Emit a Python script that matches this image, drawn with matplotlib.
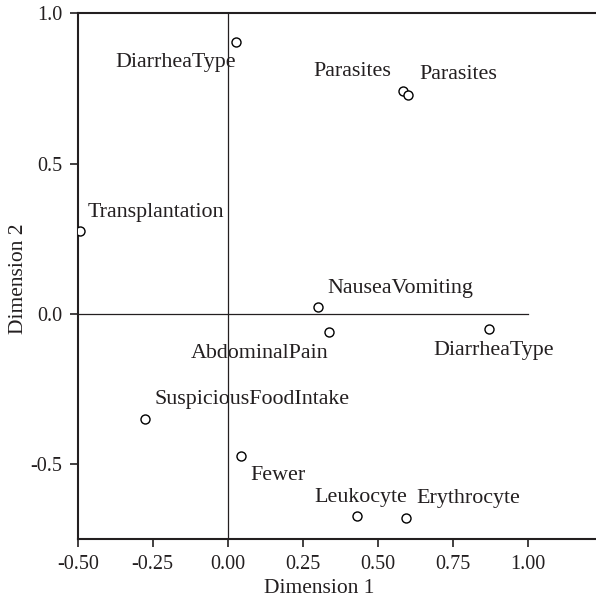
import matplotlib
matplotlib.use("Agg")
import matplotlib.pyplot as plt

# category points (dimension 1, dimension 2)
labels = ["DiarrheaType", "Parasites", "Parasites", "Transplantation",
          "NauseaVomiting", "AbdominalPain", "DiarrheaType",
          "SuspiciousFoodIntake", "Fewer", "Leukocyte", "Erythrocyte"]
dim1 = [0.027, 0.585, 0.601, -0.492, 0.300, 0.337, 0.870, -0.276, 0.043, 0.431, 0.595]
dim2 = [0.906, 0.743, 0.728, 0.276, 0.024, -0.060, -0.049, -0.349, -0.471, -0.672, -0.677]

xticks = [-0.50, -0.25, 0.00, 0.25, 0.50, 0.75, 1.00]
yticks = [-0.5, 0.0, 0.5, 1.0]

# label placement (pixel offsets, alignment)
offsets = [(0, -21, "right"), (-12, 19, "right"), (11, 21, "left"), (8, 19, "left"),
           (10, 18, "left"), (0, -21, "right"), (5, -22, "center"), (10, 19, "left"),
           (10, -20, "left"), (4, 19, "center"), (10, 19, "left")]

plt.rcParams["font.family"] = ["Liberation Serif", "DejaVu Serif"]
txt = "#231f20"

fig = plt.figure(figsize=(5.96, 6.01), dpi=100)
ax = fig.add_axes([0.1304, 0.1027, 0.8696, 0.8752])

ax.set_xlim(-0.5, 1.2277)
ax.set_ylim(-0.749, 1.0)

# reference lines
ax.plot([0, 0], [-0.749, 1.0], color="#231f20", lw=0.9, zorder=1)
ax.plot([-0.5, 1.0], [0, 0], color="#231f20", lw=0.9, zorder=1)

ax.plot(dim1, dim2, "o", mfc="white", mec="black", ms=6.5, mew=1.0, zorder=3)

for lab, x, y, (dx, dy, ha) in zip(labels, dim1, dim2, offsets):
    ax.annotate(lab, (x, y), xytext=(dx, dy), textcoords="offset pixels",
                ha=ha, va="center", fontsize=15.8, color=txt)

ax.set_xticks(xticks)
ax.set_xticklabels(["%.2f" % v for v in xticks])
ax.set_yticks(yticks)
ax.set_yticklabels(["%.1f" % v for v in yticks])
ax.tick_params(direction="out", length=6, width=1.2, labelsize=14.5,
               colors="#231f20", pad=5)

ax.set_xlabel("Dimension 1", fontsize=15.5, color=txt, va="center")
ax.set_ylabel("Dimension 2", fontsize=15.5, color=txt, va="center")
ax.xaxis.set_label_coords(0.4656, -0.0945)
ax.yaxis.set_label_coords(-0.115, 0.495)

ax.spines["right"].set_visible(False)
for s in ["left", "bottom", "top"]:
    ax.spines[s].set_linewidth(1.5)
    ax.spines[s].set_color("#231f20")

fig.savefig("out.png", dpi=100)
